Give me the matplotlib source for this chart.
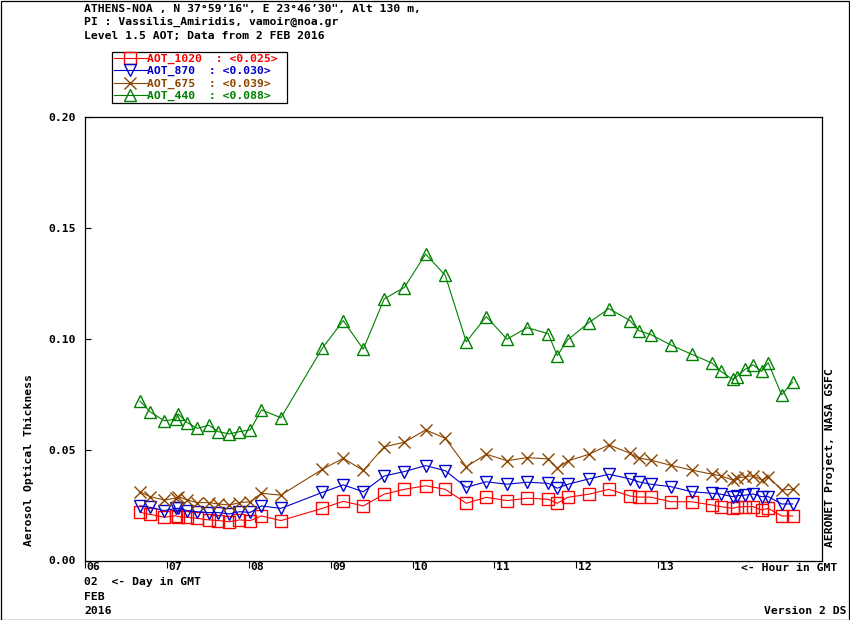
import matplotlib
matplotlib.use("Agg")
import matplotlib.pyplot as plt
from matplotlib.patches import Rectangle
import matplotlib.transforms as mtrans

# Measurement times (hour GMT, 2 FEB 2016)
hours = [6.672, 6.794, 6.968, 7.107, 7.139, 7.249, 7.371, 7.514, 7.628, 7.762,
         7.886, 8.018, 8.155, 8.393, 8.897, 9.154, 9.398, 9.654, 9.899, 10.160,
         10.399, 10.656, 10.900, 11.153, 11.400, 11.657, 11.767, 11.897, 12.154, 12.398,
         12.655, 12.761, 12.906, 13.155, 13.408, 13.659, 13.765, 13.908, 13.957, 14.062,
         14.160, 14.262, 14.343, 14.507, 14.641]

aot_440 = [0.0719, 0.0671, 0.0630, 0.0637, 0.0660, 0.0622, 0.0596, 0.0610, 0.0581, 0.0571,
           0.0581, 0.0589, 0.0679, 0.0644, 0.0957, 0.1082, 0.0953, 0.1180, 0.1231, 0.1382,
           0.1286, 0.0986, 0.1100, 0.0998, 0.1050, 0.1023, 0.0924, 0.0996, 0.1073, 0.1136,
           0.1082, 0.1037, 0.1019, 0.0972, 0.0930, 0.0890, 0.0853, 0.0817, 0.0829, 0.0862,
           0.0882, 0.0853, 0.0892, 0.0747, 0.0804]

aot_675 = [0.0310, 0.0288, 0.0273, 0.0281, 0.0288, 0.0273, 0.0261, 0.0261, 0.0255, 0.0250,
           0.0261, 0.0265, 0.0303, 0.0295, 0.0411, 0.0461, 0.0406, 0.0513, 0.0533, 0.0589,
           0.0551, 0.0423, 0.0479, 0.0450, 0.0464, 0.0458, 0.0416, 0.0449, 0.0479, 0.0521,
           0.0484, 0.0462, 0.0453, 0.0429, 0.0408, 0.0389, 0.0382, 0.0363, 0.0371, 0.0378,
           0.0382, 0.0363, 0.0378, 0.0318, 0.0321]

aot_870 = [0.0246, 0.0240, 0.0225, 0.0235, 0.0235, 0.0225, 0.0220, 0.0216, 0.0216, 0.0210,
           0.0220, 0.0217, 0.0246, 0.0235, 0.0307, 0.0341, 0.0310, 0.0381, 0.0401, 0.0428,
           0.0405, 0.0330, 0.0355, 0.0344, 0.0353, 0.0348, 0.0326, 0.0344, 0.0368, 0.0389,
           0.0368, 0.0355, 0.0344, 0.0333, 0.0310, 0.0303, 0.0299, 0.0288, 0.0292, 0.0295,
           0.0300, 0.0288, 0.0288, 0.0255, 0.0255]

aot_1020 = [0.0217, 0.0208, 0.0195, 0.0202, 0.0198, 0.0195, 0.0190, 0.0183, 0.0180, 0.0175,
            0.0183, 0.0180, 0.0201, 0.0180, 0.0235, 0.0267, 0.0246, 0.0299, 0.0321, 0.0337,
            0.0321, 0.0258, 0.0285, 0.0270, 0.0281, 0.0276, 0.0258, 0.0285, 0.0299, 0.0321,
            0.0291, 0.0286, 0.0286, 0.0265, 0.0265, 0.0250, 0.0243, 0.0235, 0.0240, 0.0243,
            0.0243, 0.0228, 0.0235, 0.0201, 0.0201]

legend_labels = ["AOT_1020  : <0.025> ", "AOT_870  : <0.030>",
                 "AOT_675  : <0.039>", "AOT_440  : <0.088>"]
x_ticks = [6, 7, 8, 9, 10, 11, 12, 13]
x_ticklabels = ["06", "07", "08", "09", "10", "11", "12", "13"]
y_ticks = [0.00, 0.05, 0.10, 0.15, 0.20]
y_ticklabels = ["0.00", "0.05", "0.10", "0.15", "0.20"]

W, H = 850, 620
FONT = "DejaVu Sans Mono"
FS = 8.2
plt.rcParams['font.family'] = [FONT]
plt.rcParams['font.weight'] = 'bold'

fig = plt.figure(figsize=(W / 100, H / 100), dpi=100)
ax = fig.add_axes([85 / W, 1 - 560.5 / H, (822 - 85) / W, (560.5 - 117) / H])

series = [
    (aot_1020, "#ff0000", "s", legend_labels[0]),
    (aot_870, "#0000cc", "v", legend_labels[1]),
    (aot_675, "#8c4600", "x", legend_labels[2]),
    (aot_440, "#008000", "^", legend_labels[3]),
]
handles = []
for vals, col, mk, lab in series:
    h, = ax.plot(hours, vals, color=col, lw=0.8, marker=mk, markersize=8,
                 markerfacecolor="none", markeredgecolor=col, markeredgewidth=1.0, label=lab)
    handles.append(h)

ax.set_xlim(6, 15)
ax.set_ylim(0, 0.20)
ax.set_xticks(x_ticks)
ax.set_xticklabels(x_ticklabels, ha="left", fontsize=FS, fontweight="bold")
ax.set_yticks(y_ticks)
ax.set_yticklabels(y_ticklabels, fontsize=FS, fontweight="bold")
ax.tick_params(axis="x", direction="out", length=5, width=0.8, pad=-4.0)
ax.tick_params(axis="y", direction="in", length=4.5, width=0.8, pad=6.5)
offset = mtrans.ScaledTranslation(1.5 / 100, 0, fig.dpi_scale_trans)
for lab in ax.get_xticklabels():
    lab.set_transform(lab.get_transform() + offset)
for sp in ax.spines.values():
    sp.set_linewidth(0.9)

ax.set_ylabel("Aerosol Optical Thickness", fontsize=FS, fontweight="bold")
ax.yaxis.set_label_coords(-(85 - 34) / (822 - 85), (560.5 - 460) / (560.5 - 117))

leg = ax.legend(handles=handles, loc="upper left",
                bbox_to_anchor=(112 / W, 1 - 52 / H), bbox_transform=fig.transFigure,
                borderaxespad=0, borderpad=0.15, handlelength=2.9, handletextpad=0.05,
                labelspacing=0.2, fancybox=False, framealpha=1, edgecolor="black",
                prop={"family": FONT, "weight": "bold", "size": FS}, labelcolor="linecolor")
leg.get_frame().set_linewidth(0.9)

def ftext(x, y, s, **kw):
    fig.text(x / W, 1 - y / H, s, fontsize=FS, fontweight="bold", **kw)

ftext(84, 9, "ATHENS-NOA , N 37\u00b059\u201916\", E 23\u00b046\u201930\", Alt 130 m,", va="center")
ftext(84, 22, "PI : Vassilis_Amiridis, vamoir@noa.gr", va="center")
ftext(84, 36, "Level 1.5 AOT; Data from 2 FEB 2016", va="center")
ftext(84, 582, "02  <- Day in GMT", va="center")
ftext(84, 597, "FEB", va="center")
ftext(84, 611, "2016", va="center")
ftext(837, 568, "<- Hour in GMT", va="center", ha="right")
ftext(846, 611, "Version 2 DS", va="center", ha="right")
ftext(829, 458, "AERONET Project, NASA GSFC", va="center", ha="center", rotation=90)

fig.patches.append(Rectangle((0.5 / W, 0.5 / H), 1 - 1.5 / W, 1 - 1.5 / H, transform=fig.transFigure,
                             fill=False, edgecolor="black", lw=0.9))

fig.savefig("out.png", dpi=100, facecolor="white")
